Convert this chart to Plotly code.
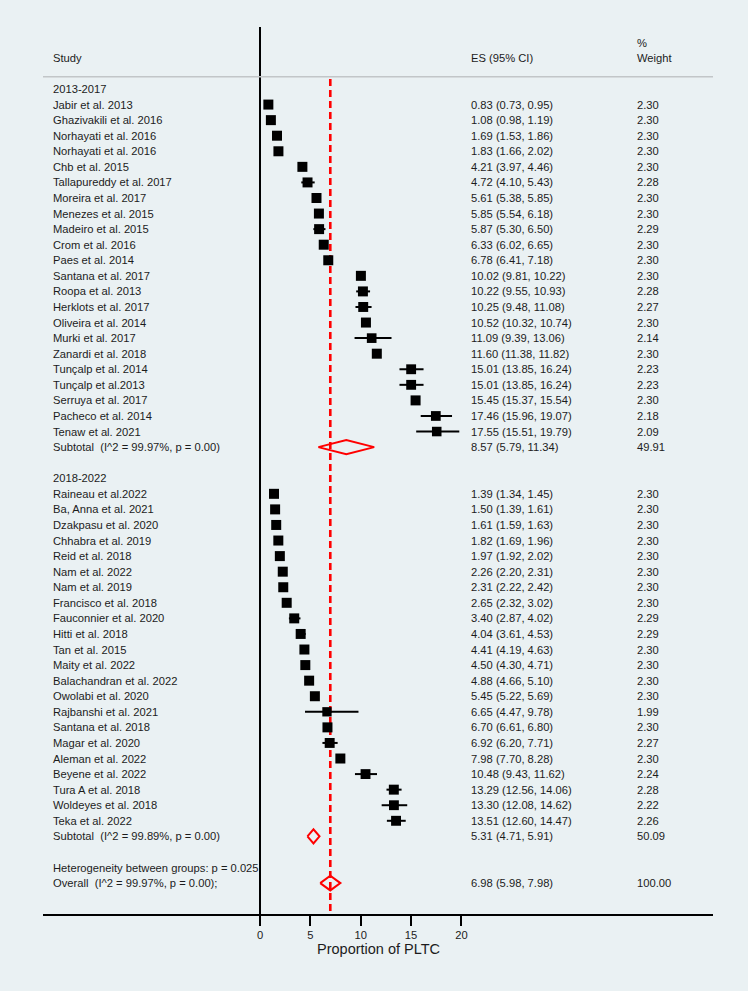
import math
import plotly.graph_objects as go

# ---------------- data ----------------
group_labels = ["2013-2017", "2018-2022"]

g1_studies = ["Jabir et al. 2013", "Ghazivakili et al. 2016", "Norhayati et al. 2016",
              "Norhayati et al. 2016", "Chb et al. 2015", "Tallapureddy et al. 2017",
              "Moreira et al. 2017", "Menezes et al. 2015", "Madeiro et al. 2015",
              "Crom et al. 2016", "Paes et al. 2014", "Santana et al. 2017",
              "Roopa et al. 2013", "Herklots et al. 2017", "Oliveira et al. 2014",
              "Murki et al. 2017", "Zanardi et al. 2018", "Tunçalp et al. 2014",
              "Tunçalp et al.2013", "Serruya et al. 2017", "Pacheco et al. 2014",
              "Tenaw et al. 2021"]
g1_es = [0.83, 1.08, 1.69, 1.83, 4.21, 4.72, 5.61, 5.85, 5.87, 6.33, 6.78,
         10.02, 10.22, 10.25, 10.52, 11.09, 11.60, 15.01, 15.01, 15.45, 17.46, 17.55]
g1_lo = [0.73, 0.98, 1.53, 1.66, 3.97, 4.10, 5.38, 5.54, 5.30, 6.02, 6.41,
         9.81, 9.55, 9.48, 10.32, 9.39, 11.38, 13.85, 13.85, 15.37, 15.96, 15.51]
g1_hi = [0.95, 1.19, 1.86, 2.02, 4.46, 5.43, 5.85, 6.18, 6.50, 6.65, 7.18,
         10.22, 10.93, 11.08, 10.74, 13.06, 11.82, 16.24, 16.24, 15.54, 19.07, 19.79]
g1_wt = [2.30, 2.30, 2.30, 2.30, 2.30, 2.28, 2.30, 2.30, 2.29, 2.30, 2.30,
         2.30, 2.28, 2.27, 2.30, 2.14, 2.30, 2.23, 2.23, 2.30, 2.18, 2.09]

g2_studies = ["Raineau et al.2022", "Ba, Anna et al. 2021", "Dzakpasu et al. 2020",
              "Chhabra et al. 2019", "Reid et al. 2018", "Nam et al. 2022", "Nam et al. 2019",
              "Francisco et al. 2018", "Fauconnier et al. 2020", "Hitti et al. 2018",
              "Tan et al. 2015", "Maity et al. 2022", "Balachandran et al. 2022",
              "Owolabi et al. 2020", "Rajbanshi et al. 2021", "Santana et al. 2018",
              "Magar et al. 2020", "Aleman et al. 2022", "Beyene et al. 2022",
              "Tura A et al. 2018", "Woldeyes et al. 2018", "Teka et al. 2022"]
g2_es = [1.39, 1.50, 1.61, 1.82, 1.97, 2.26, 2.31, 2.65, 3.40, 4.04, 4.41, 4.50,
         4.88, 5.45, 6.65, 6.70, 6.92, 7.98, 10.48, 13.29, 13.30, 13.51]
g2_lo = [1.34, 1.39, 1.59, 1.69, 1.92, 2.20, 2.22, 2.32, 2.87, 3.61, 4.19, 4.30,
         4.66, 5.22, 4.47, 6.61, 6.20, 7.70, 9.43, 12.56, 12.08, 12.60]
g2_hi = [1.45, 1.61, 1.63, 1.96, 2.02, 2.31, 2.42, 3.02, 4.02, 4.53, 4.63, 4.71,
         5.10, 5.69, 9.78, 6.80, 7.71, 8.28, 11.62, 14.06, 14.62, 14.47]
g2_wt = [2.30, 2.30, 2.30, 2.30, 2.30, 2.30, 2.30, 2.30, 2.29, 2.29, 2.30, 2.30,
         2.30, 2.30, 1.99, 2.30, 2.27, 2.30, 2.24, 2.28, 2.22, 2.26]

sub_labels = ["Subtotal\u00a0 (I^2 = 99.97%, p = 0.00)", "Subtotal\u00a0 (I^2 = 99.89%, p = 0.00)"]
sub_es = [8.57, 5.31]
sub_lo = [5.79, 4.71]
sub_hi = [11.34, 5.91]
sub_wt = [49.91, 50.09]

het_text = "Heterogeneity between groups: p = 0.025"
overall_label = "Overall\u00a0 (I^2 = 99.97%, p = 0.00);"
overall_es, overall_lo, overall_hi, overall_wt = 6.98, 5.98, 7.98, 100.00

header_study = "Study"
header_es = "ES (95% CI)"
header_wt_top = "%"
header_wt = "Weight"
x_ticks = [0, 5, 10, 15, 20]
x_title = "Proportion of PLTC"

# ---------------- layout geometry ----------------
W, H = 748, 991
PLOT_L, PLOT_R, PLOT_T, PLOT_B = 43, 713, 0, 914
X0_PX, PX_PER_UNIT = 260, 10.07
ROW0_PX, ROW_H = 89, 15.57


def px_x(p):
    return (p - X0_PX) / PX_PER_UNIT


def px_row(p):
    return (p - ROW0_PX) / ROW_H


x_range = [px_x(PLOT_L), px_x(PLOT_R)]
y_range = [px_row(PLOT_B), px_row(PLOT_T)]

COL_STUDY = px_x(52)
COL_ES = px_x(470)
COL_WT = px_x(636)

BG = "#eaf1f3"
TXT = "#1c1c1c"
FONT = "Liberation Sans, Arial, sans-serif"
FS = 11.2

groups = [
    (group_labels[0], g1_studies, g1_es, g1_lo, g1_hi, g1_wt, 0),
    (group_labels[1], g2_studies, g2_es, g2_lo, g2_hi, g2_wt, 1),
]

annotations = []


def add_text(x, r, s, size=FS, yref="y"):
    annotations.append(dict(x=x, y=r, xref="x", yref=yref, text=s, showarrow=False,
                            xanchor="left", yanchor="middle", borderpad=0,
                            font=dict(family=FONT, size=size, color=TXT)))


fig = go.Figure()

# red dashed line at overall estimate
fig.add_trace(go.Scatter(x=[overall_es, overall_es], y=[px_row(79), y_range[0]],
                         mode="lines", line=dict(color="#ff0000", width=2.6, dash="7px,4px"),
                         hoverinfo="skip", showlegend=False, cliponaxis=False))

row = 0
for label, studies, es, lo, hi, wt, gi in groups:
    add_text(COL_STUDY, row, label)
    row += 1
    rows = list(range(row, row + len(studies)))
    for r, s, e, l, h, w in zip(rows, studies, es, lo, hi, wt):
        add_text(COL_STUDY, r, s)
        add_text(COL_ES, r, f"{e:.2f} ({l:.2f}, {h:.2f})")
        add_text(COL_WT, r, f"{w:.2f}")
    fig.add_trace(go.Scatter(
        x=es, y=rows, mode="markers",
        marker=dict(symbol="square", size=[6.6 * math.sqrt(w) for w in wt], color="black",
                    opacity=1, line=dict(width=0)),
        error_x=dict(type="data", symmetric=False,
                     array=[h - e for e, h in zip(es, hi)],
                     arrayminus=[e - l for e, l in zip(es, lo)],
                     color="black", thickness=2, width=0),
        hoverinfo="skip", showlegend=False, cliponaxis=False))
    row += len(studies)
    # subtotal diamond
    d = 0.45
    fig.add_trace(go.Scatter(
        x=[sub_lo[gi], sub_es[gi], sub_hi[gi], sub_es[gi], sub_lo[gi]],
        y=[row, row - d, row, row + d, row], mode="lines",
        line=dict(color="#ff0000", width=2), hoverinfo="skip", showlegend=False,
        cliponaxis=False))
    add_text(COL_STUDY, row, sub_labels[gi])
    add_text(COL_ES, row, f"{sub_es[gi]:.2f} ({sub_lo[gi]:.2f}, {sub_hi[gi]:.2f})")
    add_text(COL_WT, row, f"{sub_wt[gi]:.2f}")
    row += 2

# heterogeneity + overall
add_text(COL_STUDY, row, het_text)
row += 1
d = 0.47
fig.add_trace(go.Scatter(
    x=[overall_lo, overall_es, overall_hi, overall_es, overall_lo],
    y=[row, row - d, row, row + d, row], mode="lines",
    line=dict(color="#ff0000", width=2), hoverinfo="skip", showlegend=False,
    cliponaxis=False))
add_text(COL_STUDY, row, overall_label)
add_text(COL_ES, row, f"{overall_es:.2f} ({overall_lo:.2f}, {overall_hi:.2f})")
add_text(COL_WT, row, f"{overall_wt:.2f}")

# headers
add_text(COL_STUDY, px_row(58), header_study)
add_text(COL_ES, px_row(58), header_es)
add_text(COL_WT, px_row(43), header_wt_top)
add_text(COL_WT, px_row(58), header_wt)

# axis title
annotations.append(dict(x=px_x(378), y=(PLOT_B - 949) / (PLOT_B - PLOT_T), xref="x", yref="paper",
                        text=x_title, showarrow=False, xanchor="center", yanchor="middle",
                        font=dict(family=FONT, size=14.5, color=TXT)))

shapes = [
    # vertical null line at 0
    dict(type="line", xref="x", yref="paper", x0=0, x1=0,
         y0=0, y1=(PLOT_B - 27) / (PLOT_B - PLOT_T),
         line=dict(color="black", width=2), layer="below"),
    # header separator
    dict(type="line", xref="paper", yref="y", x0=0, x1=1, y0=px_row(76.7), y1=px_row(76.7),
         line=dict(color="#c2c6c8", width=1.6), layer="below"),
]

fig.update_layout(
    width=W, height=H, autosize=False,
    margin=dict(l=PLOT_L, r=W - PLOT_R, t=PLOT_T, b=H - PLOT_B, pad=0),
    paper_bgcolor=BG, plot_bgcolor="rgba(0,0,0,0)",
    showlegend=False,
    annotations=annotations, shapes=shapes,
    xaxis=dict(range=x_range, tickmode="array", tickvals=x_ticks,
               ticktext=[str(t) for t in x_ticks],
               showgrid=False, zeroline=False, showline=True, linecolor="black",
               linewidth=2, ticks="outside", ticklen=10, tickwidth=1.5, tickcolor="black",
               tickfont=dict(family=FONT, size=11.2, color=TXT), fixedrange=True),
    yaxis=dict(range=y_range, visible=False, showgrid=False, zeroline=False, fixedrange=True),
)

fig.write_html("out.html", config={"displayModeBar": False},
               post_script="document.body.style.margin='0';document.body.style.background='%s';" % BG)
